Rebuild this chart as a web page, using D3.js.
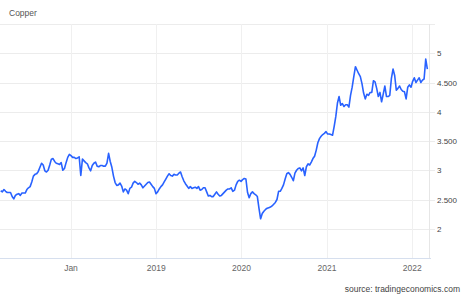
<!DOCTYPE html>
<html><head><meta charset="utf-8">
<script src="https://cdn.jsdelivr.net/npm/d3@7"></script>
<style>body{margin:0;background:#fff;}svg{display:block;font-family:"Liberation Sans",Arial,sans-serif;}</style>
</head><body>
<svg id="c" width="468" height="294"></svg>
<script>
// Weekly copper price (USD/lb)
const dates = [
"2017-03-06","2017-03-13","2017-03-20","2017-03-27","2017-04-03","2017-04-10","2017-04-17","2017-04-24","2017-05-01","2017-05-08","2017-05-15","2017-05-22","2017-05-29","2017-06-05","2017-06-12","2017-06-19","2017-06-26","2017-07-03","2017-07-10","2017-07-17","2017-07-24","2017-07-31","2017-08-07","2017-08-14","2017-08-21","2017-08-28","2017-09-04","2017-09-11","2017-09-18","2017-09-25","2017-10-02","2017-10-09","2017-10-16","2017-10-23","2017-10-30","2017-11-06","2017-11-13","2017-11-20","2017-11-27","2017-12-04","2017-12-11","2017-12-18","2017-12-25",
"2018-01-01","2018-01-08","2018-01-15","2018-01-22","2018-01-29","2018-02-05","2018-02-12","2018-02-19","2018-02-26","2018-03-05","2018-03-12","2018-03-19","2018-03-26","2018-04-02","2018-04-09","2018-04-16","2018-04-23","2018-04-30","2018-05-07","2018-05-14","2018-05-21","2018-05-28","2018-06-04","2018-06-11","2018-06-18","2018-06-25","2018-07-02","2018-07-09","2018-07-16","2018-07-23","2018-07-30","2018-08-06","2018-08-13","2018-08-20","2018-08-27","2018-09-03","2018-09-10","2018-09-17","2018-09-24","2018-10-01","2018-10-08","2018-10-15","2018-10-22","2018-10-29","2018-11-05","2018-11-12","2018-11-19","2018-11-26","2018-12-03","2018-12-10","2018-12-17","2018-12-24","2018-12-31",
"2019-01-07","2019-01-14","2019-01-21","2019-01-28","2019-02-04","2019-02-11","2019-02-18","2019-02-25","2019-03-04","2019-03-11","2019-03-18","2019-03-25","2019-04-01","2019-04-08","2019-04-15","2019-04-22","2019-04-29","2019-05-06","2019-05-13","2019-05-20","2019-05-27","2019-06-03","2019-06-10","2019-06-17","2019-06-24","2019-07-01","2019-07-08","2019-07-15","2019-07-22","2019-07-29","2019-08-05","2019-08-12","2019-08-19","2019-08-26","2019-09-02","2019-09-09","2019-09-16","2019-09-23","2019-09-30","2019-10-07","2019-10-14","2019-10-21","2019-10-28","2019-11-04","2019-11-11","2019-11-18","2019-11-25","2019-12-02","2019-12-09","2019-12-16","2019-12-23","2019-12-30",
"2020-01-06","2020-01-13","2020-01-20","2020-01-27","2020-02-03","2020-02-10","2020-02-17","2020-02-24","2020-03-02","2020-03-09","2020-03-16","2020-03-23","2020-03-30","2020-04-06","2020-04-13","2020-04-20","2020-04-27","2020-05-04","2020-05-11","2020-05-18","2020-05-25","2020-06-01","2020-06-08","2020-06-15","2020-06-22","2020-06-29","2020-07-06","2020-07-13","2020-07-20","2020-07-27","2020-08-03","2020-08-10","2020-08-17","2020-08-24","2020-08-31","2020-09-07","2020-09-14","2020-09-21","2020-09-28","2020-10-05","2020-10-12","2020-10-19","2020-10-26","2020-11-02","2020-11-09","2020-11-16","2020-11-23","2020-11-30","2020-12-07","2020-12-14","2020-12-21","2020-12-28",
"2021-01-04","2021-01-11","2021-01-18","2021-01-25","2021-02-01","2021-02-08","2021-02-15","2021-02-22","2021-03-01","2021-03-08","2021-03-15","2021-03-22","2021-03-29","2021-04-05","2021-04-12","2021-04-19","2021-04-26","2021-05-03","2021-05-10","2021-05-17","2021-05-24","2021-05-31","2021-06-07","2021-06-14","2021-06-21","2021-06-28","2021-07-05","2021-07-12","2021-07-19","2021-07-26","2021-08-02","2021-08-09","2021-08-16","2021-08-23","2021-08-30","2021-09-06","2021-09-13","2021-09-20","2021-09-27","2021-10-04","2021-10-11","2021-10-18","2021-10-25","2021-11-01","2021-11-08","2021-11-15","2021-11-22","2021-11-29","2021-12-06","2021-12-13","2021-12-20","2021-12-27",
"2022-01-03","2022-01-10","2022-01-17","2022-01-24","2022-01-31","2022-02-07","2022-02-14","2022-02-21","2022-02-28","2022-03-07"];
const prices = [
2.65,2.63,2.67,2.64,2.62,2.62,2.62,2.55,2.51,2.57,2.59,2.60,2.57,2.61,2.61,2.61,2.67,2.70,2.72,2.80,2.90,2.93,2.94,2.98,3.05,3.12,3.09,2.99,2.97,3.00,3.09,3.19,3.20,3.15,3.12,3.11,3.10,3.13,3.00,3.03,3.13,3.22,3.27,
3.25,3.22,3.22,3.20,3.21,3.23,2.91,3.19,3.16,3.13,3.11,3.04,2.99,3.08,3.12,3.14,3.07,3.06,3.08,3.08,3.07,3.07,3.12,3.29,3.15,3.05,2.90,2.79,2.74,2.75,2.78,2.73,2.63,2.68,2.66,2.60,2.69,2.71,2.78,2.81,2.79,2.76,2.78,2.75,2.70,2.73,2.76,2.79,2.80,2.76,2.72,2.69,2.60,
2.63,2.68,2.72,2.75,2.80,2.85,2.90,2.94,2.91,2.90,2.93,2.92,2.92,2.95,2.97,2.89,2.82,2.77,2.73,2.69,2.72,2.69,2.70,2.71,2.69,2.72,2.66,2.67,2.70,2.70,2.63,2.56,2.57,2.55,2.55,2.59,2.63,2.59,2.56,2.57,2.60,2.63,2.66,2.68,2.68,2.70,2.64,2.66,2.75,2.81,2.83,2.81,
2.84,2.86,2.85,2.62,2.53,2.60,2.63,2.60,2.58,2.55,2.35,2.17,2.26,2.30,2.33,2.35,2.36,2.37,2.39,2.42,2.45,2.50,2.64,2.64,2.69,2.75,2.85,2.94,2.96,2.93,2.88,2.82,2.95,3.00,3.03,3.04,2.99,3.04,2.91,3.06,3.11,3.09,3.14,3.20,3.24,3.34,3.47,3.54,3.58,3.61,3.63,3.66,
3.62,3.62,3.61,3.60,3.75,3.92,4.15,4.26,4.11,4.14,4.09,4.12,4.12,4.08,4.28,4.42,4.60,4.77,4.71,4.65,4.60,4.48,4.32,4.22,4.30,4.28,4.33,4.33,4.53,4.51,4.40,4.26,4.33,4.17,4.30,4.44,4.26,4.26,4.28,4.57,4.73,4.62,4.37,4.40,4.44,4.38,4.35,4.34,4.22,4.42,4.46,4.42,
4.52,4.58,4.50,4.54,4.58,4.50,4.54,4.56,4.90,4.73];
const yTicks = [2,2.5,3,3.5,4,4.5,5];
const yTickLabels = ["2","2.500","3","3.500","4","4.500","5"];
const xTicks = ["2018-01-01","2019-01-01","2020-01-01","2021-01-01","2022-01-01"];
const xTickLabels = ["Jan","2019","2020","2021","2022"];

const parse = d3.timeParse("%Y-%m-%d");
const n = Math.min(dates.length, prices.length);
const data = d3.range(n).map(i=>({date:parse(dates[i]), v:prices[i]}));
const svg = d3.select("#c");
const L=0, R=429, T=24, B=258;
const x = d3.scaleTime().domain([parse("2017-03-03"), parse("2022-03-14")]).range([L,R]);
const y = d3.scaleLinear().domain([1.5,5.5]).range([B,T]);

svg.append("text").attr("x",9).attr("y",16).attr("font-size",8.5).attr("fill","#555").text("Copper");

const hg = [...yTicks, 5.5];
svg.append("g").selectAll("line").data(hg).join("line")
  .attr("x1",L).attr("x2",435).attr("y1",d=>Math.round(y(d))+0.5).attr("y2",d=>Math.round(y(d))+0.5)
  .attr("stroke","#ececec").attr("stroke-width",1);
svg.append("g").selectAll("line").data(xTicks).join("line")
  .attr("x1",d=>Math.round(x(parse(d)))+0.5).attr("x2",d=>Math.round(x(parse(d)))+0.5)
  .attr("y1",T).attr("y2",B).attr("stroke","#f0f0f0");
svg.append("line").attr("x1",R+0.5).attr("x2",R+0.5).attr("y1",T).attr("y2",B).attr("stroke","#e6e6e6");
svg.append("line").attr("x1",L).attr("x2",431).attr("y1",B+0.5).attr("y2",B+0.5).attr("stroke","#d6dfee");

svg.append("g").selectAll("text").data(yTicks).join("text")
  .attr("x",437).attr("y",d=>y(d)+3).attr("font-size",8).attr("fill","#444")
  .text((d,i)=>yTickLabels[i]);
svg.append("g").selectAll("text").data(xTicks).join("text")
  .attr("x",d=>x(parse(d))).attr("y",271).attr("text-anchor","middle").attr("font-size",8.5).attr("fill","#666")
  .text((d,i)=>xTickLabels[i]);

svg.append("path").datum(data)
  .attr("d", d3.line().x(d=>x(d.date)).y(d=>y(d.v)))
  .attr("fill","none").attr("stroke","#2962ff").attr("stroke-width",1.6).attr("stroke-linejoin","round");

svg.append("text").attr("x",460).attr("y",292).attr("text-anchor","end").attr("font-size",8.5).attr("fill","#444").text("source: tradingeconomics.com");
</script>
</body></html>
